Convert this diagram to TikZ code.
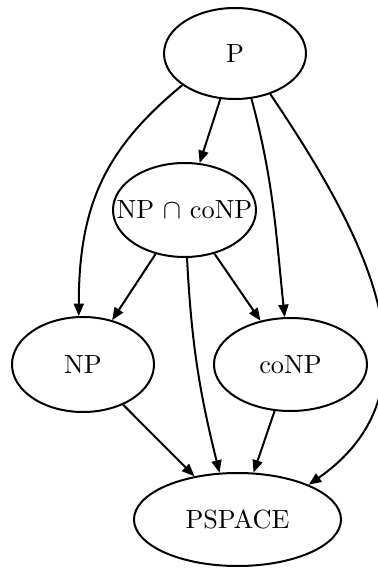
\documentclass[tikz,border=0pt]{standalone}
\usetikzlibrary{shapes.geometric,arrows.meta}
\tikzset{>={Triangle[length=5pt,width=4pt]}}
\tikzset{
  cls/.style = {draw, ellipse, inner sep=0pt, line width=0.8pt, font=\fontsize{10.5}{12}\selectfont}
}

\begin{document}
\begin{tikzpicture}[x=0.4pt,y=0.4pt,line width=0.8pt]
    \useasboundingbox (0,0) rectangle (378,568);
    \node[cls,minimum width=56.8pt,minimum height=36.4pt] (p) at (235,514.5) {P};
    \node[cls,minimum width=57.2pt,minimum height=37.6pt] (npconp) at (184.5,358) {\makebox[0pt]{NP $\cap$ coNP}};
    \node[cls,minimum width=56.8pt,minimum height=38pt] (np) at (83,203.5) {NP};
    \node[cls,minimum width=61.2pt,minimum height=37.2pt] (conp) at (290.5,203.5) {coNP};
    \node[cls,minimum width=82.8pt,minimum height=37.2pt] (pspace) at (237.5,48.5) {PSPACE};
    \draw[->] (p) -- (npconp);
    \draw[->] (p.211) .. controls +(219.5:98) and +(90:113) .. (np.95);
    \draw[->] (p.290) to[out=285,in=96] (conp.97);
    \draw[->] (p.311) to[out=304,in=35,looseness=1.1] (pspace.26);
    \draw[->] (npconp) -- (np);
    \draw[->] (npconp) -- (conp);
    \draw[->] (npconp.273) to[out=273,in=104] (pspace.111);
    \draw[->] (np) -- (pspace);
    \draw[->] (conp) -- (pspace);
\end{tikzpicture}
\end{document}
